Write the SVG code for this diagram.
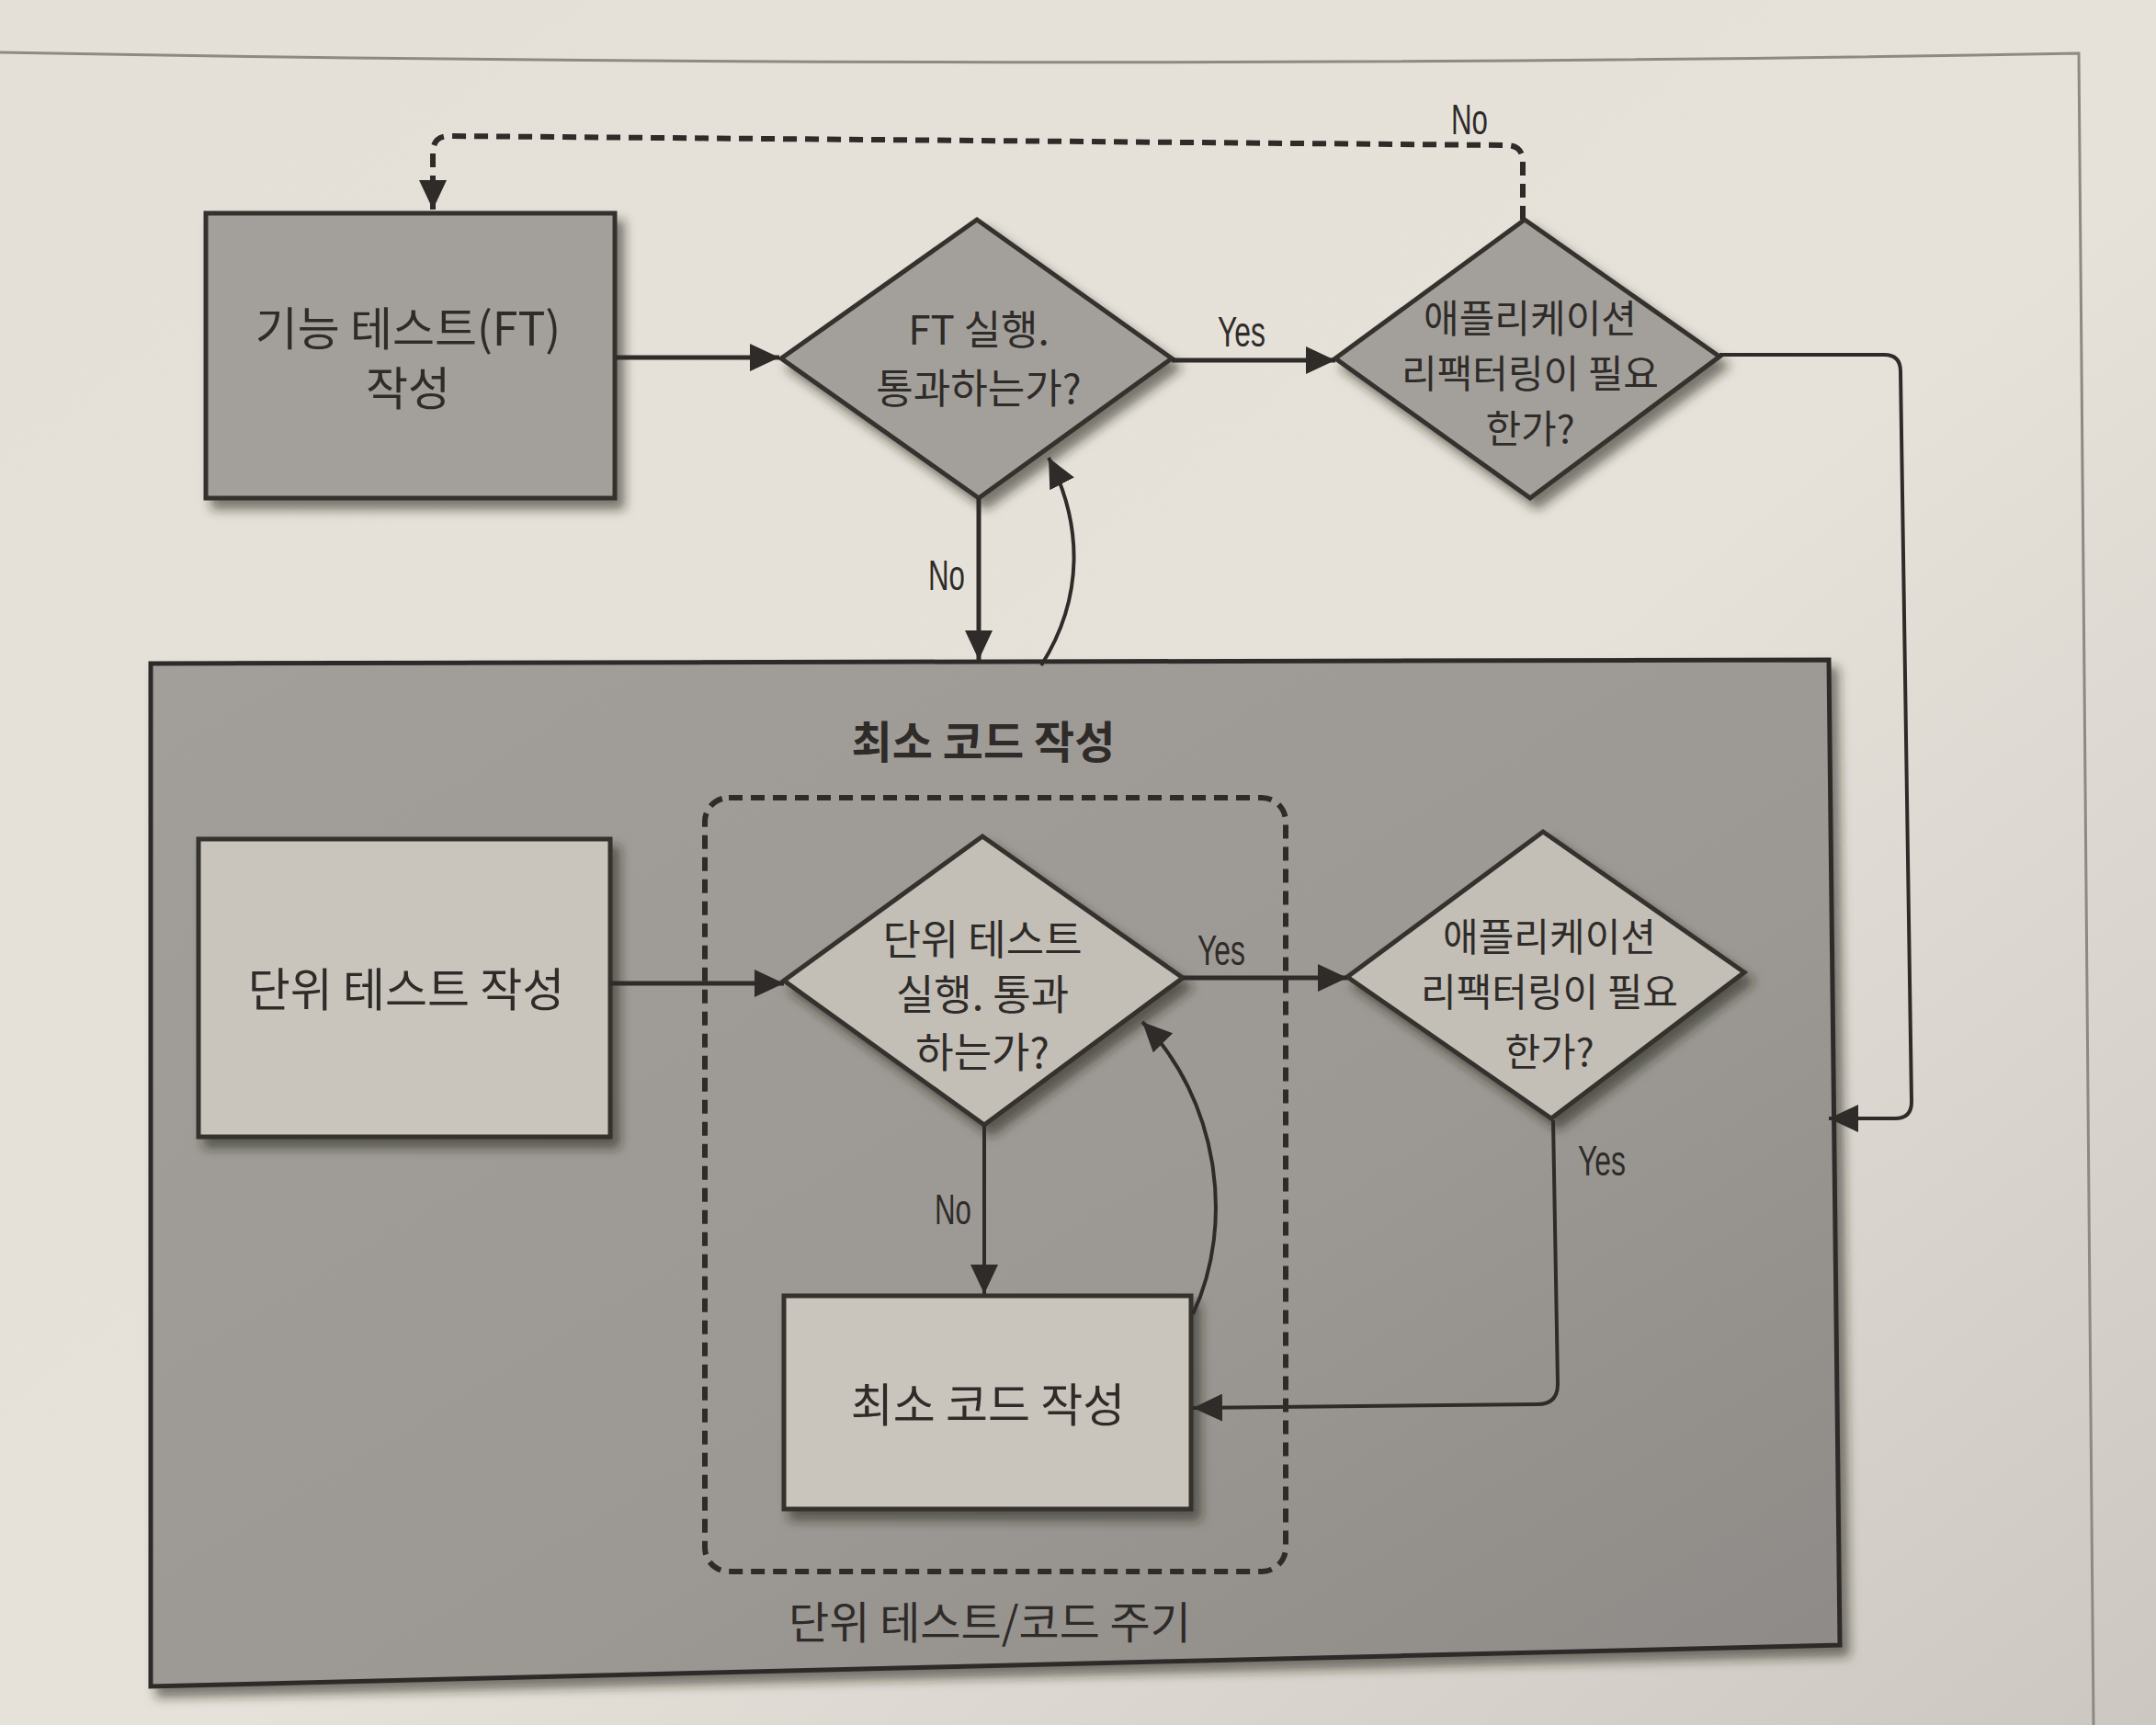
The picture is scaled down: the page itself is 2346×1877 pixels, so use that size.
<svg xmlns="http://www.w3.org/2000/svg" width="2346" height="1877" viewBox="0 0 2346 1877">
<defs>
<linearGradient id="bg" x1="0" y1="0" x2="1" y2="1">
<stop offset="0" stop-color="#e4e0d8"/>
<stop offset="0.55" stop-color="#e6e2da"/>
<stop offset="1" stop-color="#cdc7c1"/>
</linearGradient>
<linearGradient id="big" x1="0" y1="0" x2="1" y2="1">
<stop offset="0" stop-color="#a29f9a"/>
<stop offset="0.6" stop-color="#9c9994"/>
<stop offset="1" stop-color="#8d8a87"/>
</linearGradient>
<filter id="sh" x="-10%" y="-10%" width="130%" height="130%">
<feDropShadow dx="8" dy="10" stdDeviation="6" flood-color="#1e1a18" flood-opacity="0.55"/>
</filter>
<marker id="ah" markerUnits="userSpaceOnUse" markerWidth="34" markerHeight="30" refX="32" refY="15" orient="auto">
<path d="M0,0 L32,15 L0,30 Z" fill="#2f2b29"/>
</marker>
</defs>
<style>
.dark{fill:#a3a09b;stroke:#34302d;stroke-width:5;stroke-linejoin:miter}
.light{fill:#c9c5bd;stroke:#34302d;stroke-width:5}
.dlight{fill:#c3bfb7;stroke:#34302d;stroke-width:5}
.ln{fill:none;stroke:#2f2b29;stroke-width:5}
.thin{fill:none;stroke:#2f2b29;stroke-width:4}
.dash{fill:none;stroke:#2f2b29;stroke-width:6;stroke-dasharray:15 9}
.kr{font-family:"Noto Sans CJK KR","Noto Sans",sans-serif;fill:#2f2b29;text-anchor:middle}
.yn{font-family:"Liberation Sans","DejaVu Sans",sans-serif;fill:#2f2b29;text-anchor:middle;font-size:46px}
</style>
<rect x="0" y="0" width="2346" height="1877" fill="url(#bg)"/>
<path d="M0,57 Q1150,78 2262,58 L2278,1877" fill="none" stroke="#8d8984" stroke-width="3"/>

<g id="big-box">
<polygon points="164,722 1990,718 2002,1790 164,1835" fill="url(#big)" stroke="#2f2b29" stroke-width="5" filter="url(#sh)"/>
<text class="kr" x="1070" y="825" font-size="48" font-weight="bold">최소 코드 작성</text>
</g>

<g id="cycle">
<rect x="767" y="868" width="632" height="842" rx="26" class="dash"/>
<text class="kr" x="1077" y="1783" font-size="48">단위 테스트/코드 주기</text>
</g>

<g id="ft-write">
<rect x="224" y="232" width="445" height="310" class="dark" filter="url(#sh)"/>
<text class="kr" x="444" y="376" font-size="50">기능 테스트(FT)</text>
<text class="kr" x="444" y="441" font-size="50">작성</text>
</g>

<g id="ft-run">
<polygon points="850,390 1063,239 1275,390 1065,542" class="dark" filter="url(#sh)"/>
<text class="kr" x="1065" y="375" font-size="44">FT 실행.</text>
<text class="kr" x="1065" y="439" font-size="44">통과하는가?</text>
</g>

<g id="refactor-top">
<polygon points="1453,390 1659,239 1871,388 1665,542" class="dark" filter="url(#sh)"/>
<text class="kr" x="1665" y="362" font-size="42">애플리케이션</text>
<text class="kr" x="1665" y="422" font-size="42">리팩터링이 필요</text>
<text class="kr" x="1665" y="482" font-size="42">한가?</text>
</g>

<g id="unit-write">
<rect x="216" y="913" width="448" height="324" class="light" filter="url(#sh)"/>
<text class="kr" x="442" y="1095" font-size="50">단위 테스트 작성</text>
</g>

<g id="unit-run">
<polygon points="853,1067 1069,910 1287,1064 1071,1224" class="dlight" filter="url(#sh)"/>
<text class="kr" x="1069" y="1039" font-size="45">단위 테스트</text>
<text class="kr" x="1069" y="1099" font-size="45">실행. 통과</text>
<text class="kr" x="1069" y="1162" font-size="45">하는가?</text>
</g>

<g id="refactor-unit">
<polygon points="1466,1063 1679,905 1898,1058 1688,1217" class="dlight" filter="url(#sh)"/>
<text class="kr" x="1686" y="1035" font-size="42">애플리케이션</text>
<text class="kr" x="1686" y="1095" font-size="42">리팩터링이 필요</text>
<text class="kr" x="1686" y="1160" font-size="42">한가?</text>
</g>

<g id="min-code">
<rect x="853" y="1410" width="443" height="232" class="light" filter="url(#sh)"/>
<text class="kr" x="1075" y="1547" font-size="50">최소 코드 작성</text>
</g>

<g id="connectors">
<path class="ln" d="M670,389 L848,389" marker-end="url(#ah)"/>
<path class="ln" d="M1275,392 L1453,392" marker-end="url(#ah)"/>
<path class="dash" d="M1657,239 L1657,176 Q1657,158 1639,158 L489,148 Q471,148 471,166 L471,228" marker-end="url(#ah)"/>
<path class="ln" d="M1065,542 L1065,718" marker-end="url(#ah)"/>
<path class="thin" d="M1133,724 C1180,650 1178,570 1141,498" marker-end="url(#ah)"/>
<path class="thin" d="M1871,386 L2050,386 Q2068,386 2068,404 L2080,1199 Q2080,1217 2062,1217 L1990,1217" marker-end="url(#ah)"/>
<path class="ln" d="M664,1070 L853,1070" marker-end="url(#ah)"/>
<path class="ln" d="M1287,1064 L1466,1064" marker-end="url(#ah)"/>
<path class="thin" d="M1071,1224 L1071,1408" marker-end="url(#ah)"/>
<path class="thin" d="M1298,1430 C1345,1330 1325,1195 1243,1112" marker-end="url(#ah)"/>
<path class="thin" d="M1690,1219 L1695,1506 Q1695,1528 1673,1528 L1298,1532" marker-end="url(#ah)"/>
<text class="yn" x="1351" y="377" textLength="52" lengthAdjust="spacingAndGlyphs">Yes</text>
<text class="yn" x="1599" y="146" textLength="40" lengthAdjust="spacingAndGlyphs">No</text>
<text class="yn" x="1030" y="642" textLength="40" lengthAdjust="spacingAndGlyphs">No</text>
<text class="yn" x="1329" y="1050" textLength="52" lengthAdjust="spacingAndGlyphs">Yes</text>
<text class="yn" x="1037" y="1332" textLength="40" lengthAdjust="spacingAndGlyphs">No</text>
<text class="yn" x="1743" y="1279" textLength="52" lengthAdjust="spacingAndGlyphs">Yes</text>
</g>
</svg>
